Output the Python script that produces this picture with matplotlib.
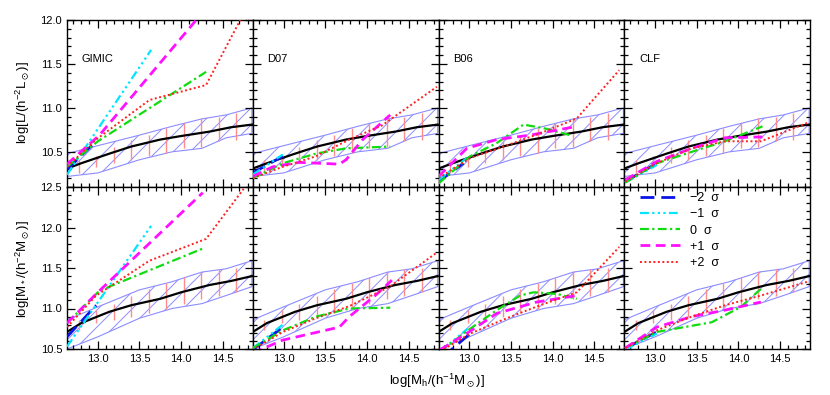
import matplotlib
matplotlib.use('Agg')
import matplotlib.pyplot as plt
from matplotlib.patches import Polygon
from matplotlib.collections import LineCollection
from matplotlib.ticker import MultipleLocator, FormatStrFormatter

plt.rcParams['font.family'] = ['Liberation Sans', 'DejaVu Sans']
plt.rcParams['mathtext.default'] = 'regular'

# panel names and legend labels
PANELS = ['GIMIC', 'D07', 'B06', 'CLF']
SIGMAS = ['\u22122  \u03c3', '\u22121  \u03c3', '0  \u03c3', '+1  \u03c3', '+2  \u03c3']

# mean relation (black line), same in every panel of a row
MEAN_X = [12.63, 12.8, 13.14, 13.4, 13.75, 14.0, 14.34, 14.6, 14.85]
MEAN_L = [10.31, 10.37, 10.48, 10.56, 10.64, 10.68, 10.73, 10.78, 10.81]
MEAN_M = [10.71, 10.82, 10.96, 11.04, 11.12, 11.20, 11.29, 11.34, 11.40]

# hatched scatter band
BAND_X = [12.63, 13.0, 13.5, 13.89, 14.25, 14.54, 14.85]
BAND_L_HI = [10.48, 10.57, 10.69, 10.79, 10.875, 10.92, 11.0]
BAND_L_LO = [10.22, 10.26, 10.41, 10.50, 10.54, 10.66, 10.71]
BAND_M_HI = [10.86, 11.02, 11.23, 11.33, 11.45, 11.49, 11.59]
BAND_M_LO = [10.50, 10.65, 10.88, 11.0, 11.06, 11.16, 11.27]

# red error bars
ERR_X = [12.77, 12.98, 13.19, 13.40, 13.61, 13.82, 14.03, 14.24, 14.45, 14.66]
ERR_L_LO = [10.26, 10.33, 10.37, 10.41, 10.45, 10.49, 10.54, 10.56, 10.62, 10.64]
ERR_L_HI = [10.41, 10.45, 10.56, 10.64, 10.69, 10.77, 10.83, 10.88, 10.90, 10.94]
ERR_M_LO = [10.73, 10.82, 10.86, 10.90, 10.95, 11.0, 11.06, 11.12, 11.16, 11.20]
ERR_M_HI = [10.86, 10.98, 11.06, 11.15, 11.24, 11.31, 11.39, 11.45, 11.49, 11.50]

# sigma curves, luminosity row: (x, y) per sigma, order -2, -1, 0, +1, +2
GIMIC_L = [
    ([12.63, 12.99], [10.30, 10.63]),
    ([12.63, 13.64], [10.24, 11.66]),
    ([12.63, 13.0, 14.30], [10.33, 10.62, 11.41]),
    ([12.63, 13.02, 14.19], [10.36, 10.69, 12.01]),
    ([12.63, 12.98, 13.62, 14.30, 14.71], [10.33, 10.64, 11.09, 11.26, 12.0]),
]
D07_L = [
    ([12.63, 12.99], [10.26, 10.45]),
    ([12.63, 12.99], [10.24, 10.47]),
    ([12.63, 12.99, 13.39, 13.75, 14.28], [10.20, 10.37, 10.48, 10.54, 10.56]),
    ([12.63, 12.87, 13.19, 13.67, 13.75, 13.95, 14.28], [10.22, 10.33, 10.38, 10.36, 10.41, 10.64, 10.92]),
    ([12.63, 12.99, 13.39, 13.79, 14.18, 14.84], [10.20, 10.33, 10.45, 10.64, 10.80, 11.24]),
]
B06_L = [
    ([12.63, 12.93], [10.16, 10.37]),
    ([12.63, 12.97], [10.18, 10.43]),
    ([12.63, 13.01, 13.33, 13.65, 13.89, 14.21], [10.14, 10.45, 10.60, 10.81, 10.77, 10.69]),
    ([12.63, 12.97, 13.33, 13.73, 14.29], [10.22, 10.54, 10.64, 10.69, 10.79]),
    ([12.63, 13.01, 13.41, 13.85, 14.29, 14.80], [10.20, 10.43, 10.56, 10.71, 10.88, 11.43]),
]
CLF_L = [
    ([12.64, 13.02], [10.16, 10.37]),
    ([12.64, 13.02], [10.15, 10.35]),
    ([12.64, 13.02, 13.44, 13.84, 14.29], [10.15, 10.37, 10.50, 10.62, 10.79]),
    ([12.64, 13.02, 13.44, 13.84, 14.29], [10.18, 10.39, 10.54, 10.66, 10.67]),
    ([12.64, 13.02, 13.44, 13.84, 14.27, 14.83], [10.16, 10.37, 10.54, 10.62, 10.62, 10.83]),
]

# sigma curves, stellar mass row
GIMIC_M = [
    ([12.63, 12.98], [10.65, 11.04]),
    ([12.63, 13.64], [10.53, 12.02]),
    ([12.63, 13.02, 14.26], [10.82, 11.22, 11.74]),
    ([12.63, 13.0, 14.26], [10.82, 11.2, 12.43]),
    ([12.63, 12.98, 13.62, 14.30, 14.76], [10.77, 11.16, 11.59, 11.86, 12.49]),
]
D07_M = [
    ([12.63, 12.99], [10.49, 10.77]),
    ([12.63, 12.99], [10.51, 10.80]),
    ([12.63, 12.99, 13.39, 13.79, 14.28], [10.51, 10.73, 10.90, 11.0, 11.01]),
    ([12.63, 12.99, 13.67, 13.79, 14.10, 14.30], [10.45, 10.61, 10.77, 10.90, 11.16, 11.35]),
    ([12.63, 12.99, 13.39, 13.79, 14.26, 14.84], [10.49, 10.71, 10.88, 11.03, 11.26, 11.69]),
]
B06_M = [
    ([12.68, 13.01], [10.40, 10.69]),
    ([12.65, 12.98], [10.47, 10.75]),
    ([12.65, 13.01, 13.33, 13.61, 13.77, 14.05, 14.29], [10.47, 10.75, 10.98, 11.16, 11.20, 11.18, 11.12]),
    ([12.65, 13.01, 13.33, 13.81, 14.29], [10.49, 10.72, 10.94, 11.08, 11.16]),
    ([12.65, 13.01, 13.45, 13.85, 14.29, 14.80], [10.47, 10.69, 10.88, 11.04, 11.20, 11.76]),
]
CLF_M = [
    ([12.64, 13.02], [10.51, 10.71]),
    ([12.64, 13.02], [10.49, 10.69]),
    ([12.64, 13.02, 13.68, 14.03, 14.29], [10.51, 10.71, 10.83, 11.02, 11.26]),
    ([12.64, 13.02, 13.44, 13.84, 14.27], [10.51, 10.77, 10.90, 10.98, 11.08]),
    ([12.64, 13.02, 13.44, 13.84, 14.27, 14.83], [10.51, 10.73, 10.90, 11.04, 11.16, 11.33]),
]

LUM_CURVES = [GIMIC_L, D07_L, B06_L, CLF_L]
MASS_CURVES = [GIMIC_M, D07_M, B06_M, CLF_M]

# line styles for -2, -1, 0, +1, +2 sigma
STYLES = [
    dict(color='#0a14e6', dashes=(5, 2.5), lw=2.0),
    dict(color='#00e6ff', dashes=(4, 1.5, 1, 1.5, 1, 1.5, 1, 1.5), lw=1.6),
    dict(color='#10dc10', dashes=(4, 1.5, 1, 1.5), lw=1.6),
    dict(color='#ff10ff', dashes=(3.5, 2), lw=2.0),
    dict(color='#ff2020', dashes=(1, 1.3), lw=1.4),
]
BAND_COLOR = '#8c8cff'
HATCH_STEP_PX = 17  # horizontal spacing of the diagonal hatch lines


def draw_panel(ax, w_px, h_px, curves, mean_y, band_hi, band_lo, err_lo, err_hi):
    # band outline (upper edge then lower edge backwards)
    verts = list(zip(BAND_X, band_hi)) + list(zip(BAND_X[::-1], band_lo[::-1]))
    band = Polygon(verts, closed=True, facecolor='none', edgecolor=BAND_COLOR,
                   lw=0.8, zorder=1)
    ax.add_patch(band)
    # 45 degree hatching, clipped to the band
    step = HATCH_STEP_PX / w_px
    rise = h_px / w_px
    segs = [[(k * step - rise, 0), (k * step, 1)] for k in range(0, int((1 + rise) / step) + 2)]
    hatch = LineCollection(segs, transform=ax.transAxes, colors=BAND_COLOR, lw=0.7,
                           zorder=1)
    ax.add_collection(hatch)
    hatch.set_clip_path(band)

    ax.vlines(ERR_X, err_lo, err_hi, colors='#ff8c8c', lw=1.0, zorder=2)
    ax.plot(MEAN_X, mean_y, color='black', lw=1.6, zorder=3)
    handles = []
    for (xs, ys), st, lab in zip(curves, STYLES, SIGMAS):
        h, = ax.plot(xs, ys, color=st['color'], lw=st['lw'], dashes=st['dashes'],
                     label=lab, zorder=4)
        handles.append(h)
    return handles


fig = plt.figure(figsize=(8.3, 3.95), dpi=100)

left = 67 / 830
width = 185.75 / 830
rows = [(1 - 187 / 395, (187 - 20) / 395), (1 - 349 / 395, (349 - 187) / 395)]

for r, (bottom, height) in enumerate(rows):
    for c in range(4):
        ax = fig.add_axes([left + c * width, bottom, width, height])
        w_px, h_px = width * 830, height * 395
        if r == 0:
            ax.set_ylim(10.1, 12.0)
            handles = draw_panel(ax, w_px, h_px, LUM_CURVES[c], MEAN_L, BAND_L_HI,
                                 BAND_L_LO, ERR_L_LO, ERR_L_HI)
            ax.text(0.08, 0.75, PANELS[c], transform=ax.transAxes, fontsize=8)
        else:
            ax.set_ylim(10.5, 12.5)
            handles = draw_panel(ax, w_px, h_px, MASS_CURVES[c], MEAN_M, BAND_M_HI,
                                 BAND_M_LO, ERR_M_LO, ERR_M_HI)
        ax.set_xlim(12.63, 14.86)
        ax.xaxis.set_major_locator(MultipleLocator(0.5))
        ax.xaxis.set_minor_locator(MultipleLocator(0.1))
        ax.yaxis.set_major_locator(MultipleLocator(0.5))
        ax.yaxis.set_minor_locator(MultipleLocator(0.1))
        ax.xaxis.set_major_formatter(FormatStrFormatter('%.1f'))
        ax.yaxis.set_major_formatter(FormatStrFormatter('%.1f'))
        ax.tick_params(which='both', direction='in', top=True, right=True,
                       labelsize=8, width=0.9)
        ax.tick_params(which='major', length=6)
        ax.tick_params(which='minor', length=3)
        for s in ax.spines.values():
            s.set_linewidth(1.0)
        if c > 0:
            ax.tick_params(labelleft=False)
        if r == 0:
            ax.tick_params(labelbottom=False)
        if r == 1 and c == 3:
            ax.legend(handles=handles, loc='upper left', bbox_to_anchor=(0.06, 1.0),
                      frameon=False, fontsize=9, handlelength=3.2,
                      handletextpad=0.8, labelspacing=0.34, borderaxespad=0.0)

fig.text(0.527, 0.035, r'log[M$_h$/(h$^{-1}$M$_\odot$)]', ha='center', va='center',
         fontsize=9.5)
fig.text(0.027, 0.74, r'log[L/(h$^{-2}$L$_\odot$)]', rotation=90, ha='center',
         va='center', fontsize=9.5)
fig.text(0.027, 0.32, r'log[M$_*$/(h$^{-2}$M$_\odot$)]', rotation=90, ha='center',
         va='center', fontsize=9.5)

fig.savefig('out.png', dpi=100)
